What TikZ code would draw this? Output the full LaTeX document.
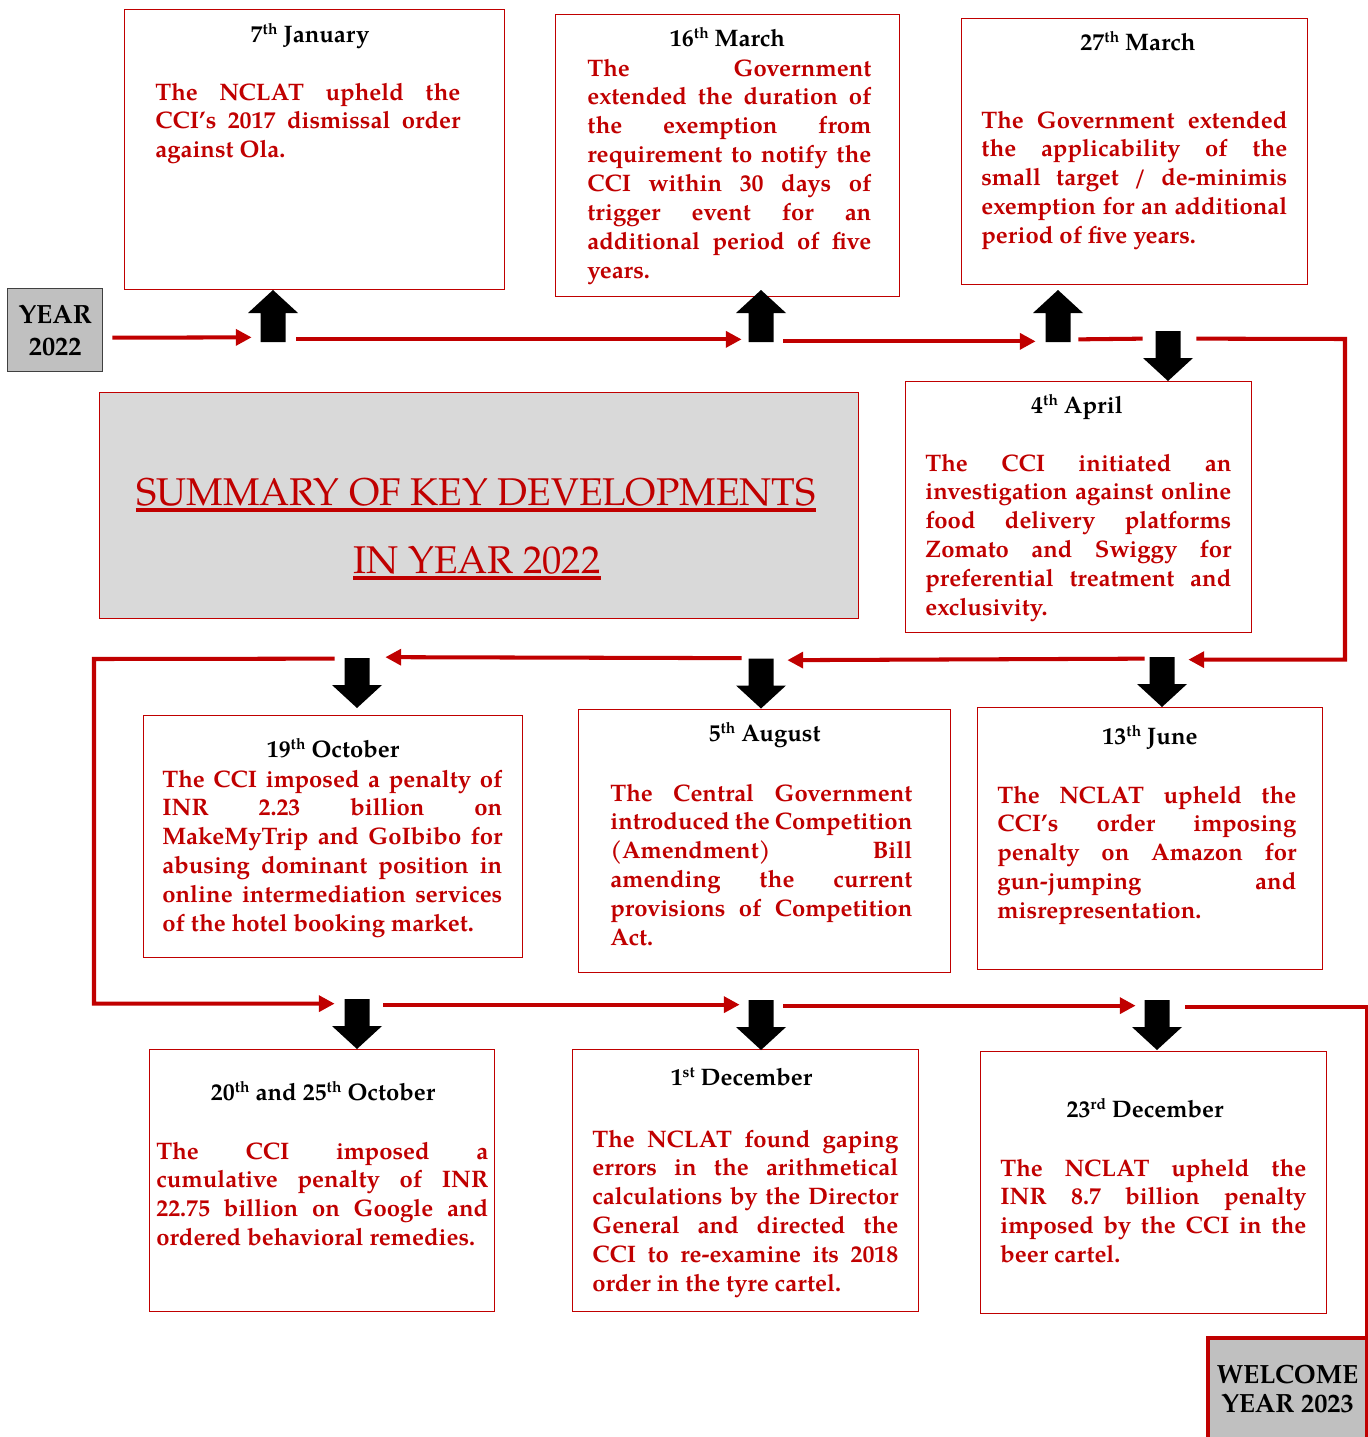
\documentclass[tikz,border=0pt]{standalone}
\usepackage{fontspec}
\setmainfont{TeX Gyre Pagella}
\usetikzlibrary{arrows.meta}

\definecolor{ccired}{HTML}{C00000}
\definecolor{yeargray}{HTML}{C0C0C0}
\definecolor{titlegray}{HTML}{D9D9D9}
\newlength\unitpx
\setlength\unitpx{0.02cm}
\newcommand\ordsup[1]{\raisebox{0.3em}{\fontsize{8.8}{9}\selectfont #1}}

\begin{document}
\begin{tikzpicture}[x=0.02cm, y=-0.02cm,
  event/.style={draw=ccired, line width=0.6pt, anchor=north west, inner sep=0},
  date/.style={font=\fontsize{13.6}{16.4}\selectfont\bfseries, anchor=base, inner sep=0},
  blurb/.style={font=\fontsize{13.6}{16.44}\selectfont\bfseries, text=ccired,
                align=justify, anchor=base west, inner sep=0},
  yearbox/.style={fill=yeargray, font=\fontsize{15}{18.1}\selectfont\bfseries,
                  align=center, anchor=north west, inner sep=0},
  headline/.style={font=\fontsize{22}{26}\selectfont, text=ccired, anchor=base, inner sep=0},
  flow/.style={ccired, line width=2.3pt, -{Triangle[length=9pt, width=9pt]}},
  link/.style={ccired, line width=2.3pt},
  upblock/.style={minimum width=50\unitpx, minimum height=52\unitpx, inner sep=0,
    path picture={\fill[black] ([xshift=12.5\unitpx]path picture bounding box.south west)
      -- ++(25,0) -- ++(0,-29) -- ++(12.5,0) -- ++(-25,-23) -- ++(-25,23) -- ++(12.5,0) -- cycle;}},
  downblock/.style={minimum width=50\unitpx, minimum height=50\unitpx, inner sep=0,
    path picture={\fill[black] ([xshift=12.5\unitpx]path picture bounding box.north west)
      -- ++(25,0) -- ++(0,27) -- ++(12.5,0) -- ++(-25,23) -- ++(-25,-23) -- ++(12.5,0) -- cycle;}}]
  \useasboundingbox (0,0) rectangle (1368,1437);

  % start and end of the year
  \node[yearbox, draw=black!75, line width=0.8pt, minimum width=95\unitpx,
        minimum height=83\unitpx] (y22) at (7,288) {YEAR\\2022};
  \node[yearbox, draw=ccired, line width=2.3pt, minimum width=159\unitpx,
        minimum height=102\unitpx, font=\fontsize{15}{17}\selectfont\bfseries]
        (welcome) at (1206,1336) {WELCOME\\YEAR 2023};

  % title
  \node[event, fill=titlegray, minimum width=759\unitpx, minimum height=226\unitpx] (summary) at (99,392) {};
  \node[headline] (title1) at (476,505) {SUMMARY OF KEY DEVELOPMENTS};
  \node[headline] (title2) at (477,573) {IN YEAR 2022};
  \draw[ccired, line width=1.9pt] ([yshift=-5\unitpx]title1.base west) -- ([yshift=-5\unitpx]title1.base east);
  \draw[ccired, line width=1.9pt] ([yshift=-5\unitpx]title2.base west) -- ([yshift=-5\unitpx]title2.base east);

  % first row
  \node[event, minimum width=380\unitpx, minimum height=280\unitpx] (jan) at (124,9) {};
  \node[date] (jandate) at (310,42) {7\ordsup{th} January};
  \node[blurb, text width=305\unitpx] (jantext) at (155,100)
    {The NCLAT upheld the\linebreak CCI's 2017 dismissal order\linebreak against Ola.};

  \node[event, minimum width=344\unitpx, minimum height=282\unitpx] (mar16) at (555,14) {};
  \node[date] (mar16date) at (727.5,46) {16\ordsup{th} March};
  \node[blurb, text width=284\unitpx] (mar16text) at (587,76)
    {The Government\linebreak extended the duration of\linebreak the exemption from\linebreak
     requirement to notify the\linebreak CCI within 30 days of\linebreak trigger event for an\linebreak
     additional period of five\linebreak years.};

  \node[event, minimum width=346\unitpx, minimum height=266\unitpx] (mar27) at (961,18) {};
  \node[date] (mar27date) at (1138,50) {27\ordsup{th} March};
  \node[blurb, text width=306\unitpx] (mar27text) at (981,128)
    {The Government extended\linebreak the applicability of the\linebreak small target / de-minimis\linebreak
     exemption for an additional\linebreak period of five years.};

  \node[event, minimum width=346\unitpx, minimum height=251\unitpx] (apr) at (905,381) {};
  \node[date] (aprdate) at (1077,413) {4\ordsup{th} April};
  \node[blurb, text width=306\unitpx] (aprtext) at (925,471)
    {The CCI initiated an\linebreak investigation against online\linebreak food delivery platforms\linebreak
     Zomato and Swiggy for\linebreak preferential treatment and\linebreak exclusivity.};

  % second row
  \node[event, minimum width=345\unitpx, minimum height=262\unitpx] (jun) at (977,707) {};
  \node[date] (jundate) at (1150,744) {13\ordsup{th} June};
  \node[blurb, text width=299\unitpx] (juntext) at (997,803)
    {The NCLAT upheld the\linebreak CCI's order imposing\linebreak penalty on Amazon for\linebreak
     gun-jumping and\linebreak misrepresentation.};

  \node[event, minimum width=372\unitpx, minimum height=263\unitpx] (aug) at (578,709) {};
  \node[date] (augdate) at (764.5,741) {5\ordsup{th} August};
  \node[blurb, text width=302\unitpx] (augtext) at (610,801)
    {The Central Government\linebreak introduced the Competition\linebreak (Amendment) Bill\linebreak
     amending the current\linebreak provisions of Competition\linebreak Act.};

  \node[event, minimum width=379\unitpx, minimum height=242\unitpx] (oct19) at (143,715) {};
  \node[date] (oct19date) at (333,757) {19\ordsup{th} October};
  \node[blurb, text width=340\unitpx] (oct19text) at (162,787)
    {The CCI imposed a penalty of\linebreak INR 2.23 billion on\linebreak MakeMyTrip and GoIbibo for\linebreak
     abusing dominant position in\linebreak online intermediation services\linebreak of the hotel booking market.};

  % third row
  \node[event, minimum width=345\unitpx, minimum height=262\unitpx] (oct20) at (149,1049) {};
  \node[date] (oct20date) at (323,1100) {20\ordsup{th} and 25\ordsup{th} October};
  \node[blurb, text width=332\unitpx] (oct20text) at (156,1159)
    {The CCI imposed a\linebreak cumulative penalty of INR\linebreak 22.75 billion on Google and\linebreak
     ordered behavioral remedies.};

  \node[event, minimum width=346\unitpx, minimum height=262\unitpx] (dec1) at (572,1049) {};
  \node[date] (dec1date) at (741.5,1085) {1\ordsup{st} December};
  \node[blurb, text width=306\unitpx] (dec1text) at (592,1147)
    {The NCLAT found gaping\linebreak errors in the arithmetical\linebreak calculations by the Director\linebreak
     General and directed the\linebreak CCI to re-examine its 2018\linebreak order in the tyre cartel.};

  \node[event, minimum width=346\unitpx, minimum height=262\unitpx] (dec23) at (980,1051) {};
  \node[date] (dec23date) at (1145,1117) {23\ordsup{rd} December};
  \node[blurb, text width=306\unitpx] (dec23text) at (1000,1176)
    {The NCLAT upheld the\linebreak INR 8.7 billion penalty\linebreak imposed by the CCI in the\linebreak
     beer cartel.};

  % block arrows
  \node[upblock] (up1) at (273,316) {};
  \node[upblock] (up2) at (761,316) {};
  \node[upblock] (up3) at (1058,316) {};
  \node[downblock] (dn1) at (1168,356) {};
  \node[downblock] (dn2) at (1162,682) {};
  \node[downblock] (dn3) at (761,683.5) {};
  \node[downblock] (dn4) at (357,683) {};
  \node[downblock] (dn5) at (357,1024) {};
  \node[downblock] (dn6) at (761,1025) {};
  \node[downblock] (dn7) at (1157,1025) {};

  % timeline
  \coordinate (bendR) at (1345,339);
  \coordinate (bendL) at (94,659);
  \draw[flow] ([xshift=9\unitpx, yshift=-7.5\unitpx]y22.east) -- ([xshift=4\unitpx, yshift=5\unitpx]up1.south west);
  \draw[flow] ([xshift=-2\unitpx, yshift=3\unitpx]up1.south east) -- ([xshift=6\unitpx, yshift=3\unitpx]up2.south west);
  \draw[flow] ([xshift=-3\unitpx, yshift=1\unitpx]up2.south east) -- ([xshift=3\unitpx, yshift=1\unitpx]up3.south west);
  \draw[link] ([xshift=-5\unitpx, yshift=3\unitpx]up3.south east) -- ([yshift=-8\unitpx]dn1.north west);
  \draw[flow] ([xshift=3\unitpx, yshift=-8\unitpx]dn1.north east) -- (bendR)
    |- ([xshift=1\unitpx, yshift=-3\unitpx]dn2.north east);
  \draw[flow] ([xshift=8\unitpx, yshift=-2\unitpx]dn2.north west) -- ([xshift=1\unitpx, yshift=-2\unitpx]dn3.north east);
  \draw[flow] ([xshift=6\unitpx]dn3.north west) -- ([xshift=3\unitpx, yshift=0.5\unitpx]dn4.north east);
  \draw[flow] ([xshift=3\unitpx, yshift=-1\unitpx]dn4.north west) -- (bendL)
    |- ([xshift=3\unitpx, yshift=-5\unitpx]dn5.north west);
  \draw[flow] ([xshift=1\unitpx, yshift=-6\unitpx]dn5.north east) -- ([xshift=4\unitpx, yshift=-5\unitpx]dn6.north west);
  \draw[flow] ([xshift=-3\unitpx, yshift=-6\unitpx]dn6.north east) -- ([xshift=4\unitpx, yshift=-6\unitpx]dn7.north west);
  \draw[link] ([xshift=3\unitpx, yshift=-7\unitpx]dn7.north east) -| ([xshift=-2\unitpx]welcome.north east);
\end{tikzpicture}
\end{document}
